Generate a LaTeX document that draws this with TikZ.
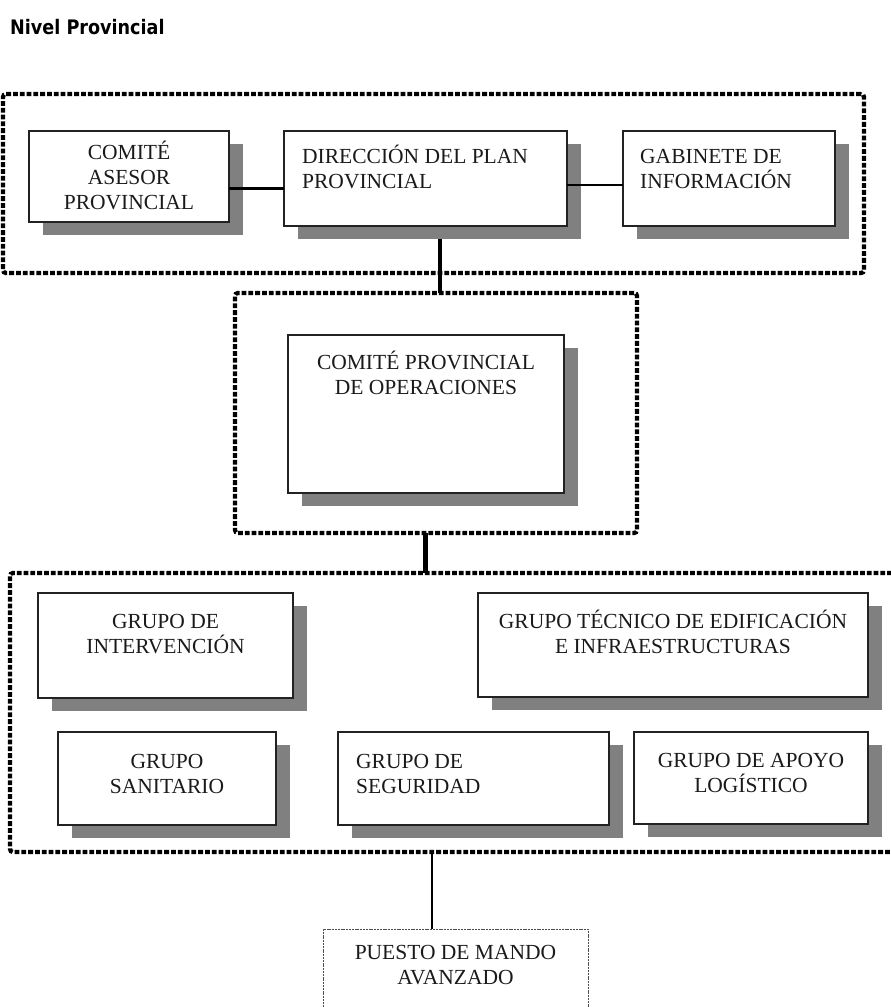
\documentclass[tikz,border=0pt]{standalone}
\usepackage{fontspec}
\setmainfont{Liberation Serif}
\newfontfamily\headfont[FakeStretch=0.88]{DejaVu Sans}
\usetikzlibrary{calc,shadows}

\definecolor{shadowgray}{HTML}{808080}
\definecolor{edgegray}{HTML}{222222}
\definecolor{inkdark}{HTML}{1A1A1A}

\tikzset{
  unitbox/.style={draw=edgegray, line width=1.3pt, fill=white, inner sep=0pt, outer sep=0pt,
    anchor=north west,
    drop shadow={shadow xshift=14pt, shadow yshift=-13pt, fill=shadowgray, opacity=1}},
  groupframe/.style={draw=black, line width=4.3pt, dash pattern=on 4.8pt off 2pt,
    rounded corners=3pt, inner sep=0pt, outer sep=0pt, anchor=north west},
  postbox/.style={draw=black!70, line width=0.6pt, dash pattern=on 2pt off 0.8pt,
    inner sep=0pt, outer sep=0pt, anchor=north west},
  % multi-line text: the base anchor sits on the last line's baseline
  boxtext/.style={font=\fontsize{21.5}{25}\selectfont, text=inkdark, inner sep=0pt, align=center, anchor=base},
  boxtextl/.style={boxtext, align=left, anchor=base west},
  link/.style={draw=black, line width=3pt},
}

\begin{document}
\begin{tikzpicture}[x=1pt,y=-1pt]
\useasboundingbox (0,0) rectangle (891,1007);

% heading
\node[font=\headfont\bfseries\fontsize{20}{22}\selectfont, anchor=base west, inner sep=0pt] (title) at (10,34) {Nivel Provincial};

% group frames
\node[groupframe, minimum width=861pt, minimum height=179pt] (topframe) at (3,94) {};
\node[groupframe, minimum width=402pt, minimum height=240pt] (midframe) at (235,293) {};
\node[groupframe, minimum width=885pt, minimum height=279pt] (botframe) at (10,573) {};

% vertical connectors between the levels (drawn below the boxes)
\draw[link, line width=3.5pt] (440,226) coordinate (dirfoot) -- (dirfoot |- midframe.north);
\draw[link, line width=5pt] (425,533) coordinate (cpofoot) -- (cpofoot |- botframe.north);

% top level boxes
\node[unitbox, minimum width=200pt, minimum height=91pt] (asesor) at (29,131) {};
\node[unitbox, minimum width=283pt, minimum height=95pt] (dir) at (284,131) {};
\node[unitbox, minimum width=212pt, minimum height=95pt] (gab) at (623,131) {};

\draw[link] ($(asesor.north east)!0.63!(asesor.south east)$) coordinate (la) -- (la -| dir.west);
\draw[link, line width=2.5pt] ($(dir.north east)!0.57!(dir.south east)$) coordinate (lb) -- (lb -| gab.west);

\node[boxtext] (asesor-t) at ($(asesor.north)+(0,78)$) {COMITÉ\\ASESOR\\PROVINCIAL};
\node[boxtextl] (dir-t) at ($(dir.north west)+(18,57)$) {DIRECCIÓN DEL PLAN\\PROVINCIAL};
\node[boxtextl] (gab-t) at ($(gab.north west)+(17,57)$) {GABINETE DE\\INFORMACIÓN};

% operations committee
\node[unitbox, minimum width=276pt, minimum height=158pt] (cpo) at (288,335) {};
\node[boxtext] (cpo-t) at ($(cpo.north)+(0,59)$) {COMITÉ PROVINCIAL\\DE OPERACIONES};

% action groups
\node[unitbox, minimum width=255pt, minimum height=105pt] (inter) at (38,593) {};
\node[unitbox, minimum width=390pt, minimum height=104pt] (tecnico) at (478,593) {};
\node[unitbox, minimum width=218pt, minimum height=93pt] (sanit) at (58,732) {};
\node[unitbox, minimum width=271pt, minimum height=93pt] (segur) at (338,732) {};
\node[unitbox, minimum width=234pt, minimum height=92pt] (apoyo) at (634,732) {};

\node[boxtext] (inter-t) at ($(inter.north)+(0,60)$) {GRUPO DE\\INTERVENCIÓN};
\node[boxtext] (tecnico-t) at ($(tecnico.north)+(0,60)$) {GRUPO TÉCNICO DE EDIFICACIÓN\\E INFRAESTRUCTURAS};
\node[boxtext] (sanit-t) at ($(sanit.north)+(0,61)$) {GRUPO\\SANITARIO};
\node[boxtextl] (segur-t) at ($(segur.north west)+(18,61)$) {GRUPO DE\\SEGURIDAD};
\node[boxtext] (apoyo-t) at ($(apoyo.north)+(0,60)$) {GRUPO DE APOYO\\LOGÍSTICO};

% advanced command post
\node[postbox, minimum width=265pt, minimum height=100pt] (pma) at (323,929) {};
\node[boxtext] (pma-t) at ($(pma.north)+(0,55)$) {PUESTO DE MANDO\\AVANZADO};

\draw[link, line width=1.5pt] (432,852) coordinate (botfoot) -- (botfoot |- pma.north);

\end{tikzpicture}
\end{document}
